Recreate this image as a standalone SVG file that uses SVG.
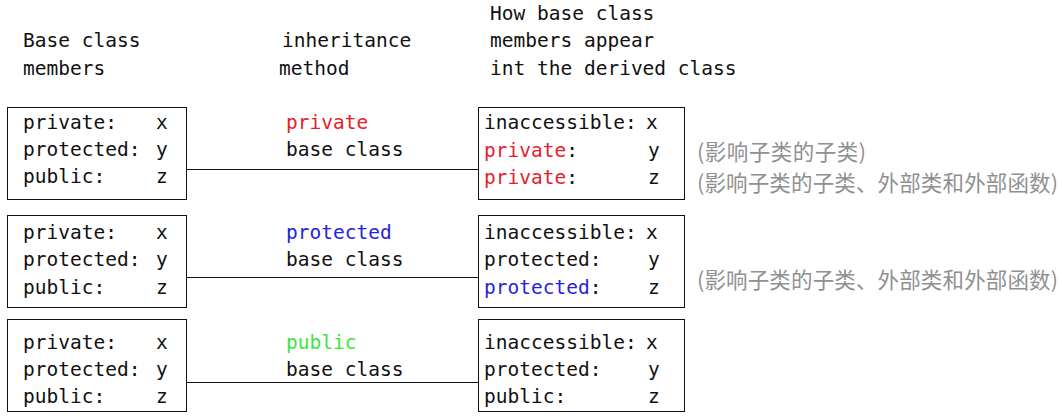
<svg xmlns="http://www.w3.org/2000/svg" width="1062" height="416" viewBox="0 0 1062 416">
<style>
.t{font-family:"DejaVu Sans Mono","Liberation Mono",monospace;font-size:19.5px;fill:#111}
.cn{font-family:"Noto Sans CJK SC","Noto Sans CJK JP",sans-serif;font-size:21.5px;fill:#909090}
.box{fill:none;stroke:#111;stroke-width:1}
.ln{stroke:#111;stroke-width:1;fill:none}
.r{fill:#e4212b}
.b{fill:#2424d8}
.g{fill:#3ee43e}
</style>
<rect width="1062" height="416" fill="#fff"/>
<g id="headers">
<text class="t" x="23" y="47">Base class</text>
<text class="t" x="23" y="75">members</text>
<text class="t" x="282" y="47">inheritance</text>
<text class="t" x="279" y="75">method</text>
<text class="t" x="490" y="20">How base class</text>
<text class="t" x="490" y="47">members appear</text>
<text class="t" x="490" y="75">int the derived class</text>
</g>
<g id="connectors">
<line class="ln" x1="187" y1="169.5" x2="478" y2="169.5"/>
<line class="ln" x1="187" y1="277.5" x2="478" y2="277.5"/>
<line class="ln" x1="187" y1="382.5" x2="478" y2="382.5"/>
</g>
<g id="base1">
<rect class="box" x="7.5" y="107.5" width="179" height="92"/>
<text class="t" x="23" y="129">private:</text><text class="t" x="156" y="129">x</text>
<text class="t" x="23" y="156">protected:</text><text class="t" x="156" y="156">y</text>
<text class="t" x="23" y="183">public:</text><text class="t" x="156" y="183">z</text>
</g>
<g id="method1">
<text class="t r" x="286" y="129">private</text>
<text class="t" x="286" y="156">base class</text>
</g>
<g id="derived1">
<rect class="box" x="478.5" y="107.5" width="206" height="92"/>
<text class="t" x="484" y="129">inaccessible:</text><text class="t" x="646" y="129">x</text>
<text class="t" x="484" y="157"><tspan class="r">private</tspan>:</text><text class="t" x="648" y="157">y</text>
<text class="t" x="484" y="184"><tspan class="r">private</tspan>:</text><text class="t" x="648" y="184">z</text>
</g>
<g id="base2">
<rect class="box" x="7.5" y="215.5" width="179" height="92"/>
<text class="t" x="23" y="239">private:</text><text class="t" x="156" y="239">x</text>
<text class="t" x="23" y="266">protected:</text><text class="t" x="156" y="266">y</text>
<text class="t" x="23" y="294">public:</text><text class="t" x="156" y="294">z</text>
</g>
<g id="method2">
<text class="t b" x="286" y="239">protected</text>
<text class="t" x="286" y="266">base class</text>
</g>
<g id="derived2">
<rect class="box" x="478.5" y="215.5" width="206" height="92"/>
<text class="t" x="484" y="239">inaccessible:</text><text class="t" x="646" y="239">x</text>
<text class="t" x="484" y="266">protected:</text><text class="t" x="648" y="266">y</text>
<text class="t" x="484" y="294"><tspan class="b">protected</tspan>:</text><text class="t" x="648" y="294">z</text>
</g>
<g id="base3">
<rect class="box" x="7.5" y="319.5" width="179" height="92"/>
<text class="t" x="23" y="349">private:</text><text class="t" x="156" y="349">x</text>
<text class="t" x="23" y="376">protected:</text><text class="t" x="156" y="376">y</text>
<text class="t" x="23" y="403">public:</text><text class="t" x="156" y="403">z</text>
</g>
<g id="method3">
<text class="t g" x="286" y="349">public</text>
<text class="t" x="286" y="376">base class</text>
</g>
<g id="derived3">
<rect class="box" x="478.5" y="319.5" width="206" height="92"/>
<text class="t" x="484" y="349">inaccessible:</text><text class="t" x="646" y="349">x</text>
<text class="t" x="484" y="376">protected:</text><text class="t" x="648" y="376">y</text>
<text class="t" x="484" y="403">public:</text><text class="t" x="648" y="403">z</text>
</g>
<g id="notes">
<text class="cn" x="697" y="160" textLength="169" lengthAdjust="spacing">(影响子类的子类)</text>
<text class="cn" x="697" y="191" textLength="361" lengthAdjust="spacing">(影响子类的子类、外部类和外部函数)</text>
<text class="cn" x="697" y="288" textLength="361" lengthAdjust="spacing">(影响子类的子类、外部类和外部函数)</text>
</g>
</svg>
